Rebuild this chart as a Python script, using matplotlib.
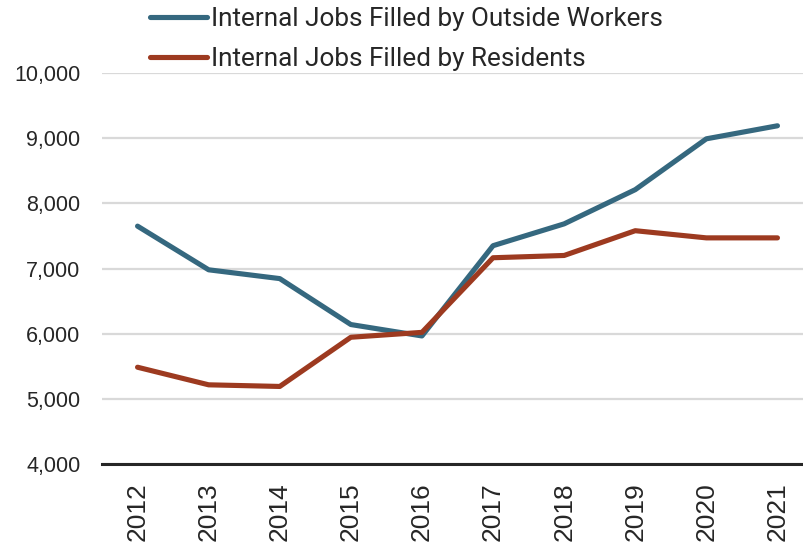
import matplotlib
matplotlib.use("Agg")
import matplotlib.pyplot as plt
from matplotlib.ticker import FuncFormatter
from matplotlib.textpath import TextPath
from matplotlib.font_manager import FontProperties

years = ["2012", "2013", "2014", "2015", "2016", "2017", "2018", "2019", "2020", "2021"]
outside_workers = [7650, 6980, 6845, 6140, 5965, 7350, 7685, 8210, 8990, 9190]
residents = [5485, 5215, 5190, 5945, 6020, 7165, 7200, 7580, 7470, 7470]
series_names = ["Internal Jobs Filled by Outside Workers", "Internal Jobs Filled by Residents"]
yticks = [4000, 5000, 6000, 7000, 8000, 9000, 10000]

W, H = 804, 546
fig = plt.figure(figsize=(W / 100, H / 100), dpi=100)
left, right, top, bottom = 102, 813, 73, 464
ax = fig.add_axes([left / W, 1 - bottom / H, (right - left) / W, (bottom - top) / H])

x = list(range(len(years)))
l1, = ax.plot(x, outside_workers, color="#35687F", lw=3.7, solid_capstyle="round", solid_joinstyle="round")
l2, = ax.plot(x, residents, color="#9D3A20", lw=3.7, solid_capstyle="round", solid_joinstyle="round")

ax.set_xlim(-0.5, 9.5)
ax.set_ylim(4000, 10000)
ax.set_yticks(yticks)
ax.yaxis.set_major_formatter(FuncFormatter(lambda v, p: f"{int(v):,}"))
ax.set_xticks(x)
ax.set_xticklabels(years, rotation=90, fontsize=19, family="Liberation Sans", color="#262626")
for lab in ax.get_yticklabels():
    lab.set_family("Liberation Sans")
    lab.set_fontsize(15.5)
    lab.set_color("#262626")

ax.grid(axis="y", color="#D9D9D9", lw=1.6)
ax.set_axisbelow(True)
for s in ["top", "right", "left"]:
    ax.spines[s].set_visible(False)
ax.spines["bottom"].set_color("#262626")
ax.spines["bottom"].set_linewidth(2.2)
ax.tick_params(axis="both", length=0)
ax.tick_params(axis="y", pad=15.5)
ax.tick_params(axis="x", pad=13)

# legend font sized so the first label spans ~450 px
fp = FontProperties(family="Roboto", size=100)
w100 = TextPath((0, 0), series_names[0], prop=fp).get_extents().width
target_px = 450
fs = 100 * (target_px / (100 / 72)) / w100
fs_px = fs * 100 / 72
leg = fig.legend([l1, l2], series_names, loc="upper left", bbox_to_anchor=(150 / W, 1 - 7 / H),
                 frameon=False, prop={"family": "Roboto", "size": fs},
                 handlelength=57 / fs_px, handletextpad=4 / fs_px, labelspacing=0.62,
                 borderaxespad=0, borderpad=0.0)
for t in leg.get_texts():
    t.set_color("#262626")

fig.savefig("out.png", dpi=100)
